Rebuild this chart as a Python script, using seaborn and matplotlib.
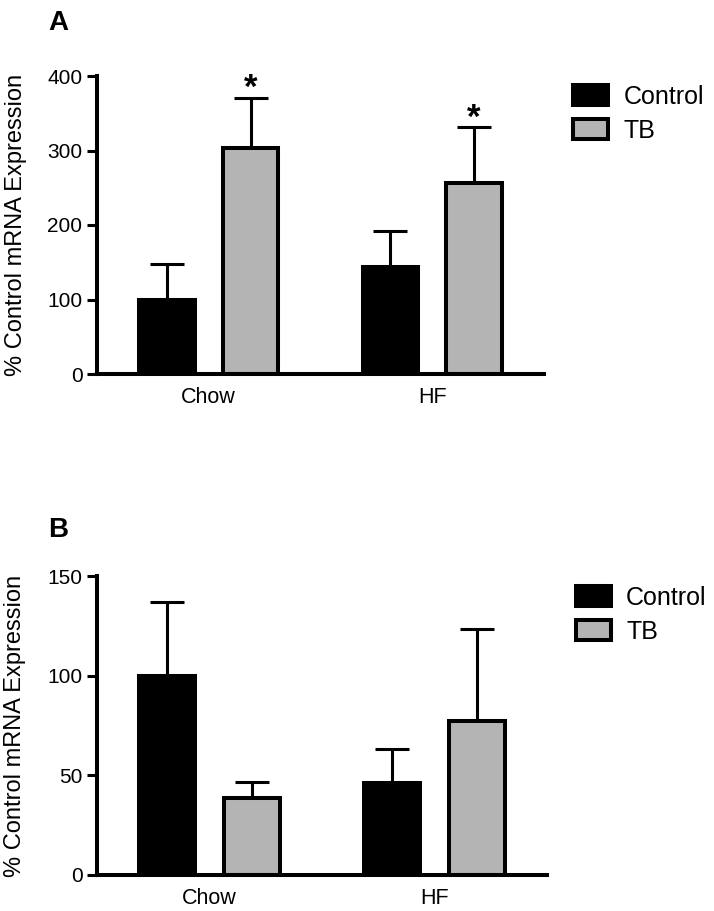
import matplotlib
matplotlib.use("Agg")
import matplotlib.pyplot as plt
import pandas as pd
import seaborn as sns

# ── data ──────────────────────────────────────────────────────────────────────
diets = ["Chow", "HF"]
groups = ["Control", "TB"]

a_control = [100, 143]
a_control_err = [48, 49]
a_tb = [304, 257]
a_tb_err = [67, 74]
a_tb_sig = ["*", "*"]

b_control = [100, 46]
b_control_err = [37, 17]
b_tb = [38.5, 77.5]
b_tb_err = [8, 46]
b_tb_sig = ["", ""]

a_yticks = [0, 100, 200, 300, 400]
b_yticks = [0, 50, 100, 150]

colors = {"Control": "black", "TB": "#b4b4b4"}

# ── style ─────────────────────────────────────────────────────────────────────
sns.set_style("ticks")
plt.rcParams["font.family"] = ["Liberation Sans", "DejaVu Sans"]
plt.rcParams.update({
    "text.color": "black", "axes.labelcolor": "black",
    "xtick.color": "black", "ytick.color": "black",
    "axes.edgecolor": "black",
})

EDGE = 2.9
ERR_LW = 2.2


def _frame(ctrl, tb):
    return pd.DataFrame({
        "diet": diets * 2,
        "group": ["Control"] * len(diets) + ["TB"] * len(diets),
        "value": list(ctrl) + list(tb),
    })


def _panel(ax, ctrl, ctrl_err, tb, tb_err, tb_sig, yticks, letter, letter_y, legend_xy):
    df = _frame(ctrl, tb)
    sns.barplot(data=df, x="diet", y="value", hue="group", order=diets,
                hue_order=groups, palette=colors, edgecolor="black",
                linewidth=EDGE, width=0.75, gap=0.34, errorbar=None,
                legend=False, ax=ax)
    bar_sets = list(ax.containers)
    handles = [c[0] for c in bar_sets]

    for bars, errs, sigs in [(bar_sets[0], ctrl_err, ["", ""]),
                             (bar_sets[1], tb_err, tb_sig)]:
        xs = [b.get_x() + b.get_width() / 2 for b in bars]
        hs = [b.get_height() for b in bars]
        ax.errorbar(xs, hs, yerr=[[0] * len(errs), errs], fmt="none",
                    ecolor="black", elinewidth=ERR_LW, capsize=12.2,
                    capthick=ERR_LW, zorder=0.5)
        for x, h, e, s in zip(xs, hs, errs, sigs):
            if s:
                ax.annotate(s, (x, h + e), xytext=(0, 0),
                            textcoords="offset points", ha="center",
                            va="baseline", fontsize=25, fontweight="bold")

    ax.set_xlim(-0.5, 1.5)
    ax.set_ylim(yticks[0], yticks[-1])
    ax.set_yticks(yticks)
    ax.set_xlabel("")
    ax.set_ylabel("% Control mRNA Expression", fontsize=17)
    ax.yaxis.set_label_coords(-0.157, 0.5)
    sns.despine(ax=ax)
    for side in ["left", "bottom"]:
        ax.spines[side].set_linewidth(EDGE)
    ax.tick_params(axis="y", length=7, width=ERR_LW, labelsize=15, pad=3.5)
    ax.tick_params(axis="x", length=0, labelsize=15.5, pad=9)

    ax.legend(handles, groups, loc="upper left", bbox_to_anchor=legend_xy,
              bbox_transform=ax.figure.transFigure, frameon=False,
              fontsize=18, borderpad=0, borderaxespad=0, handlelength=1.4,
              handleheight=0.85, handletextpad=0.6, labelspacing=0.4)

    ax.figure.text(48 / 714, letter_y, letter,
                   fontsize=20, fontweight="bold", va="baseline")


fig = plt.figure(figsize=(7.14, 9.11), dpi=100)
ax_a = fig.add_axes([97 / 714, 1 - 374 / 911, 447 / 714, 298 / 911])
ax_b = fig.add_axes([97 / 714, 1 - 875 / 911, 450 / 714, 299 / 911])

_panel(ax_a, a_control, a_control_err, a_tb, a_tb_err, a_tb_sig, a_yticks,
       "A", 1 - 30 / 911, (0.803, 0.907))
_panel(ax_b, b_control, b_control_err, b_tb, b_tb_err, b_tb_sig, b_yticks,
       "B", 1 - 537 / 911, (0.807, 0.357))

fig.savefig("out.png", dpi=100)
